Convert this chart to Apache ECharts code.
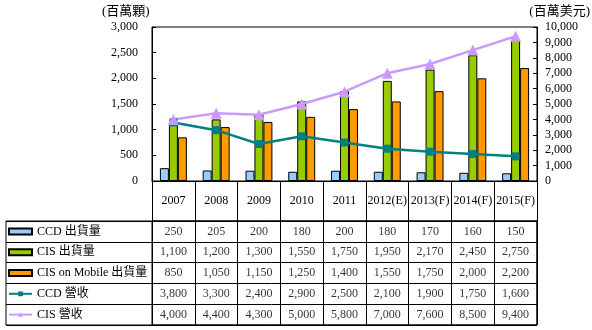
<!DOCTYPE html>
<html><head><meta charset="utf-8">
<script src="https://cdn.jsdelivr.net/npm/echarts@6/dist/echarts.min.js"></script>
<style>html,body{margin:0;padding:0;background:#fff}#c{width:592px;height:330px}</style>
</head><body><div id="c"></div>
<script>
var years = ['2007','2008','2009','2010','2011','2012(E)','2013(F)','2014(F)','2015(F)'];
var ccdShip = [250,205,200,180,200,180,170,160,150];
var cisShip = [1100,1200,1300,1550,1750,1950,2170,2450,2750];
var mobileShip = [850,1050,1150,1250,1400,1550,1750,2000,2200];
var ccdRev = [3800,3300,2400,2900,2500,2100,1900,1750,1600];
var cisRev = [4000,4400,4300,5000,5800,7000,7600,8500,9400];
var seriesNames = ['CCD 出貨量','CIS 出貨量','CIS on Mobile 出貨量','CCD 營收','CIS 營收'];
var leftUnit = '(百萬顆)', rightUnit = '(百萬美元)';

var FONT = '"Liberation Serif","Noto Sans CJK TC",serif';
var rows = [ccdShip, cisShip, mobileShip, ccdRev, cisRev];
var tableData = [];
rows.forEach(function(r, ri){ r.forEach(function(v, ci){ tableData.push([ci, ri, v]); }); });
function fmt(v){ return Number(v).toLocaleString('en-US'); }

var chart = echarts.init(document.getElementById('c'));
var axisLine = {show:true, lineStyle:{color:'#000', width:1}};
chart.setOption({
  animation:false,
  textStyle:{fontFamily:FONT, color:'#000'},
  grid:[
    {left:152, right:55, top:27, height:154, show:true, borderColor:'#000', borderWidth:1, backgroundColor:'transparent'},
    {left:6, right:55, top:221, height:104, show:true, borderColor:'#000', borderWidth:1},
    {left:152, right:55, top:221, height:104, show:true, borderColor:'#000', borderWidth:1}
  ],
  xAxis:[
    {type:'category', gridIndex:0, data:years, boundaryGap:true, axisLine:axisLine,
     axisTick:{show:true, length:40, interval:0, lineStyle:{color:'#000'}},
     axisLabel:{interval:0, margin:14, fontSize:12, color:'#000', fontFamily:FONT}},
    {type:'value', gridIndex:1, show:false},
    {type:'category', gridIndex:2, data:years, boundaryGap:true,
     axisLine:{show:false}, axisTick:{show:false}, axisLabel:{show:false},
     splitLine:{show:true, interval:0, lineStyle:{color:'#000', width:1}}}
  ],
  yAxis:[
    {type:'value', gridIndex:0, min:0, max:3000, interval:500, axisLine:axisLine,
     axisTick:{show:true, inside:true, length:4, lineStyle:{color:'#000'}},
     splitLine:{show:false},
     axisLabel:{margin:14, fontSize:12, color:'#000', fontFamily:FONT, formatter:fmt}},
    {type:'value', gridIndex:0, position:'right', min:0, max:10000, interval:1000, axisLine:axisLine,
     axisTick:{show:true, inside:true, length:4, lineStyle:{color:'#000'}},
     splitLine:{show:false},
     axisLabel:{margin:8, fontSize:12, color:'#000', fontFamily:FONT, formatter:fmt}},
    {type:'category', gridIndex:1, data:['0','1','2','3','4'], inverse:true,
     axisLine:{show:false}, axisTick:{show:false}, axisLabel:{show:false},
     splitLine:{show:true, interval:0, lineStyle:{color:'#000', width:1}}},
    {type:'category', gridIndex:2, data:['0','1','2','3','4'], inverse:true, show:false}
  ],
  legend:{
    orient:'vertical', left:8, top:224.4, padding:0, itemGap:6.8, itemWidth:23, itemHeight:6,
    height:110, selectedMode:false,
    data:[
      {name:seriesNames[0], icon:'rect'},
      {name:seriesNames[1], icon:'rect'},
      {name:seriesNames[2], icon:'rect'},
      {name:seriesNames[3]},
      {name:seriesNames[4]}
    ],
    textStyle:{fontSize:12, lineHeight:14, color:'#000', fontFamily:FONT}
  },
  graphic:[
    {type:'text', left:102, top:5, style:{text:leftUnit, font:'13px '+FONT, fill:'#000'}},
    {type:'text', right:2, top:5, style:{text:rightUnit, font:'13px '+FONT, fill:'#000'}}
  ],
  series:[
    {name:seriesNames[0], type:'bar', xAxisIndex:0, yAxisIndex:0, data:ccdShip, barGap:'0%', barCategoryGap:'37%',
     itemStyle:{color:'#99CCFF', borderColor:'#000', borderWidth:1}},
    {name:seriesNames[1], type:'bar', xAxisIndex:0, yAxisIndex:0, data:cisShip, barGap:'0%', barCategoryGap:'37%',
     itemStyle:{color:'#99CC00', borderColor:'#000', borderWidth:1}},
    {name:seriesNames[2], type:'bar', xAxisIndex:0, yAxisIndex:0, data:mobileShip, barGap:'0%', barCategoryGap:'37%',
     itemStyle:{color:'#FF9900', borderColor:'#000', borderWidth:1}},
    {name:seriesNames[3], type:'line', xAxisIndex:0, yAxisIndex:1, data:ccdRev, symbol:'rect', symbolSize:8,
     lineStyle:{color:'#008080', width:2.5}, itemStyle:{color:'#008080'}, z:5},
    {name:seriesNames[4], type:'line', xAxisIndex:0, yAxisIndex:1, data:cisRev, symbol:'triangle', symbolSize:11,
     lineStyle:{color:'#CC99FF', width:2.5}, itemStyle:{color:'#CC99FF'}, z:5},
    {name:'table', type:'scatter', xAxisIndex:2, yAxisIndex:3, data:tableData, symbolSize:1,
     itemStyle:{color:'rgba(0,0,0,0)'}, silent:true,
     label:{show:true, position:'inside', fontSize:12, color:'#000', fontFamily:FONT,
       formatter:function(p){ return fmt(p.value[2]); }}}
  ]
});
</script></body></html>
